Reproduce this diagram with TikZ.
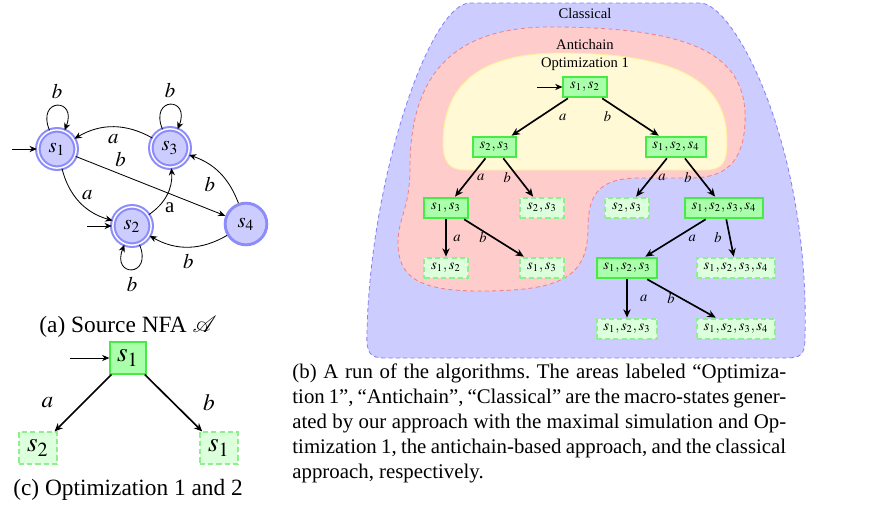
\documentclass[tikz,border=0pt]{standalone}
\usepackage{mathptmx}
\usepackage{fontspec}
\setmainfont{Liberation Serif}
\usetikzlibrary{arrows.meta,positioning,calc}

\definecolor{stfill}{RGB}{204,204,255}
\definecolor{stdraw}{RGB}{140,140,250}
\definecolor{mfill}{RGB}{170,255,170}
\definecolor{mdraw}{RGB}{70,235,70}
\definecolor{dfill}{RGB}{220,255,220}
\definecolor{ddraw}{RGB}{140,240,140}
\definecolor{clfill}{RGB}{204,204,255}
\definecolor{cldraw}{RGB}{130,130,250}
\definecolor{acfill}{RGB}{255,204,204}
\definecolor{acdraw}{RGB}{240,130,130}
\definecolor{opfill}{RGB}{255,249,214}
\definecolor{opdraw}{RGB}{255,240,150}

\newcommand{\treefont}{\fontsize{7}{8.5}\selectfont}
\newcommand{\capfont}{\fontsize{11.2}{13}\selectfont}

\tikzset{
  nfastate/.style={circle,draw=stdraw,fill=stfill,line width=1.4pt,minimum size=20pt,inner sep=0pt},
  nfaaccept/.style={nfastate,line width=1pt,double=white,double distance=0.7pt,minimum size=18.4pt},
  mstate/.style={rectangle,draw=mdraw,fill=mfill,line width=0.9pt,inner xsep=3.3pt,inner ysep=1pt,minimum height=10pt,font=\treefont},
  mpruned/.style={mstate,draw=ddraw,fill=dfill,dash pattern=on 2.5pt off 1.5pt},
  tarrow/.style={-{Stealth[length=4pt,width=3.5pt]},thick},
  nfarrow/.style={-{Stealth[length=3.5pt,width=3pt]}},
  lbl/.style={midway,font=\treefont,inner sep=1pt},
  classical/.style={fill=clfill,draw=cldraw,thin,dash pattern=on 2pt off 1.5pt},
  antichain/.style={fill=acfill,draw=acdraw,thin,dash pattern=on 2pt off 1.5pt},
  optone/.style={fill=opfill,draw=opdraw,thin},
}

\begin{document}
\frenchspacing
\begin{tikzpicture}[x=0.48pt,y=0.48pt]
  \useasboundingbox (0,0) rectangle (876,508);

  % (a) the NFA
  \node[nfaaccept] (s1) at (57,359) {$s_1$};
  \node[nfaaccept] (s3) at (170,360) {$s_3$};
  \node[nfaaccept] (s2) at (132,282) {$s_2$};
  \node[nfastate] (s4) at (246,284) {$s_4$};
  \coordinate (i1) at (12,359);
  \coordinate (i2) at (87,282);
  \draw[nfarrow] (i1) -- (s1);
  \draw[nfarrow] (i2) -- (s2);
  \draw[nfarrow] (s1) to[out=112,in=68,looseness=6] node[above] {$b$} (s1);
  \draw[nfarrow] (s3) to[out=112,in=68,looseness=6] node[above] {$b$} (s3);
  \draw[nfarrow] (s2) to[out=-68,in=-112,looseness=6] node[below] {$b$} (s2);
  \draw[nfarrow] (s3) to[bend right=30] node[below] {$a$} (s1);
  \draw[nfarrow] (s1) -- node[pos=0.3,above] {$b$} (s4);
  \draw[nfarrow] (s1) to[bend right=30] node[above right,inner sep=1pt] {$a$} (s2);
  \draw[nfarrow] (s2) to[bend right=30] node[pos=0.2,right] {a} (s3);
  \draw[nfarrow] (s4) to[bend right=25] node[below left,inner sep=2pt] {$b$} (s3);
  \draw[nfarrow] (s4) to[bend left=30] node[below] {$b$} (s2);
  \node[font=\capfont] (capa) at (128,181) {(a) Source NFA $\mathcal{A}$};

  % (c) with both optimizations
  \node[mstate,font=\fontsize{13}{15}\selectfont,minimum width=17pt,minimum height=15pt] (c1) at (128,150) {$s_1$};
  \node[mpruned,font=\fontsize{13}{15}\selectfont,minimum width=18.5pt,minimum height=15pt] (c2) at (38,60) {$s_2$};
  \node[mpruned,font=\fontsize{13}{15}\selectfont,minimum width=18.5pt,minimum height=15pt] (c3) at (219,60) {$s_1$};
  \coordinate (ci) at (70,150);
  \draw[nfarrow] (ci) -- (c1);
  \draw[tarrow] (c1) -- node[midway,xshift=-17pt,font=\capfont] {$a$} (c2);
  \draw[tarrow] (c1) -- node[midway,xshift=17pt,font=\capfont] {$b$} (c3);
  \node[font=\capfont] (capc) at (128,18) {(c) Optimization 1 and 2};

  % (b) areas of the three approaches
  \path[classical] (470,505) -- (700,505) .. controls (735,505) and (810,360) .. (805,170)
    .. controls (805,152) and (800,150) .. (785,150) -- (385,150)
    .. controls (370,150) and (366,155) .. (367,175)
    .. controls (370,330) and (430,505) .. (470,505) -- cycle;
  \path[antichain] (550,481) .. controls (700,481) and (748,450) .. (745,385)
    .. controls (743,345) and (725,330) .. (690,330) -- (640,330)
    .. controls (600,330) and (588,315) .. (588,280)
    .. controls (588,230) and (560,217) .. (480,217)
    .. controls (420,217) and (398,230) .. (398,265)
    .. controls (398,290) and (410,300) .. (410,340)
    .. controls (410,430) and (450,481) .. (550,481) -- cycle;
  \path[optone] (560,455) .. controls (690,455) and (728,420) .. (727,365)
    .. controls (727,345) and (722,338) .. (705,338) -- (465,338)
    .. controls (450,338) and (443,345) .. (443,365)
    .. controls (443,415) and (470,455) .. (560,455) -- cycle;
  \node[font=\treefont] (tcl) at (585,494) {Classical};
  \node[font=\treefont] (tac) at (585,463) {Antichain};
  \node[font=\treefont] (top) at (585,444) {Optimization 1};

  % (b) the run
  \node[mstate] (r) at (585,421) {$s_1,s_2$};
  \coordinate (ri) at (537,421);
  \node[mstate] (n23) at (494.5,361) {$s_2,s_3$};
  \node[mstate] (n124) at (676,361) {$s_1,s_2,s_4$};
  \node[mstate] (n13) at (446,300) {$s_1,s_3$};
  \node[mpruned] (d23a) at (542,300) {$s_2,s_3$};
  \node[mpruned] (d23b) at (627,300) {$s_2,s_3$};
  \node[mstate] (n1234) at (724,300) {$s_1,s_2,s_3,s_4$};
  \node[mpruned] (d12) at (446,240) {$s_1,s_2$};
  \node[mpruned] (d13) at (542,240) {$s_1,s_3$};
  \node[mstate] (n123) at (627,240) {$s_1,s_2,s_3$};
  \node[mpruned] (d1234a) at (736,240) {$s_1,s_2,s_3,s_4$};
  \node[mpruned] (d123) at (627,179) {$s_1,s_2,s_3$};
  \node[mpruned] (d1234b) at (736,179) {$s_1,s_2,s_3,s_4$};

  \draw[nfarrow] (ri) -- (r);
  \draw[tarrow] (r) -- node[lbl,xshift=11pt] {$a$} (n23);
  \draw[tarrow] (r) -- node[lbl,xshift=-11pt] {$b$} (n124);
  \draw[tarrow] (n23) -- node[lbl,xshift=5pt] {$a$} (n13);
  \draw[tarrow] (n23) -- node[lbl,xshift=-5.3pt] {$b$} (d23a);
  \draw[tarrow] (n124) -- node[lbl,xshift=5pt] {$a$} (d23b);
  \draw[tarrow] (n124) -- node[lbl,xshift=-5.8pt] {$b$} (n1234);
  \draw[tarrow] (n13) -- node[lbl,xshift=5.3pt] {$a$} (d12);
  \draw[tarrow] (n13) -- node[lbl,xshift=-5.3pt] {$b$} (d13);
  \draw[tarrow] (n1234) -- node[lbl,xshift=8pt] {$a$} (n123);
  \draw[tarrow] (n1234) -- node[lbl,xshift=-5.8pt] {$b$} (d1234a);
  \draw[tarrow] (n123) -- node[lbl,xshift=8pt] {$a$} (d123);
  \draw[tarrow] (n123) -- node[lbl,xshift=-5pt] {$b$} (d1234b);

  \node[anchor=north west,text width=237pt,align=justify,inner sep=0pt] (capb) at (292,145)
    {(b) A run of the algorithms. The areas labeled “Optimiza-\linebreak{}tion 1”, “Antichain”, “Classical” are the macro-states gener-\linebreak{}ated by our approach with the maximal simulation and Op-\linebreak{}timization 1, the antichain-based approach, and the classical\linebreak{}approach, respectively.};
\end{tikzpicture}
\end{document}
